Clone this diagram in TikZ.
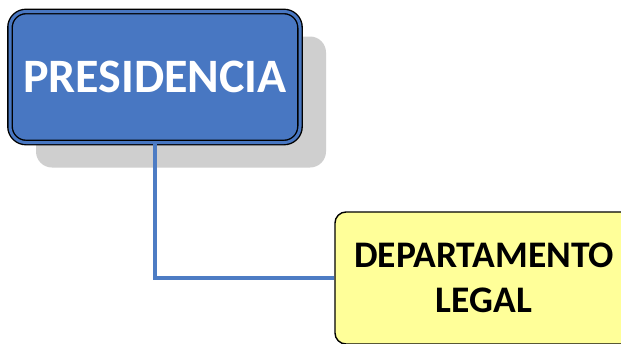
\documentclass[tikz,border=0pt]{standalone}
\usepackage{fontspec}
\setmainfont{Carlito}
\usepackage{xcolor}
\usepackage{tikz}
\usetikzlibrary{shadows}

\definecolor{presblue}{HTML}{4877C2}
\definecolor{lineblue}{HTML}{4D7CC4}
\definecolor{legalyellow}{HTML}{FFFF99}
\definecolor{shadowgray}{HTML}{CFCFCF}

\begin{document}
\begin{tikzpicture}[x=1pt,y=-1pt,
    presbox/.style={draw=black, double=presblue, double distance=3pt, line width=1.4pt,
        fill=presblue, rounded corners=16pt, minimum width=290pt, minimum height=131pt,
        text=white, font=\bfseries\fontsize{48}{56}\selectfont,
        general shadow={fill=shadowgray, shadow xshift=26pt, shadow yshift=-25pt}},
    deptbox/.style={draw=black, line width=1.4pt, fill=legalyellow, rounded corners=11pt,
        minimum width=298pt, minimum height=132pt, align=center,
        font=\bfseries\fontsize{37.5}{45}\selectfont},
    conn/.style={lineblue, line width=4pt}]
    \clip (0,0) rectangle (621,343);
    \fill [white] (0,0) rectangle (621,343);
    % president on top, legal department below
    \node [presbox] (pres) at (155,77) {PRESIDENCIA};
    \node [deptbox] (legal) at (484,278) {DEPARTAMENTO\\LEGAL};
    \draw [conn] (pres.south) |- (legal.west);
\end{tikzpicture}
\end{document}
